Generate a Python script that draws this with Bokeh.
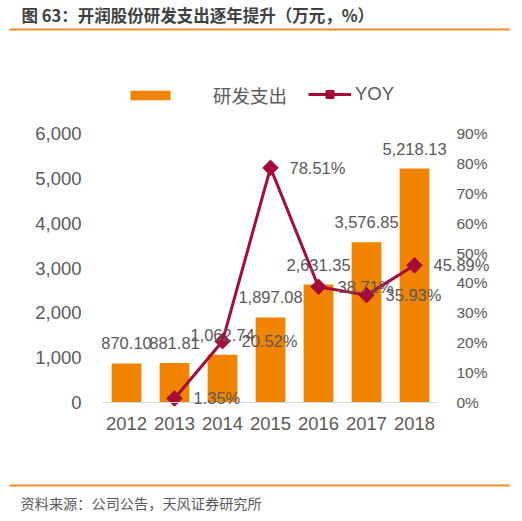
import numpy as np
from bokeh.plotting import figure
from bokeh.models import (Range1d, FactorRange, LinearAxis, FixedTicker, NumeralTickFormatter,
                          PrintfTickFormatter, ColumnDataSource, LabelSet, Legend, LegendItem, Label)
from bokeh.layouts import column
from bokeh.embed import file_html
from bokeh.resources import INLINE
from bokeh.core.properties import value

# ---------------- data ----------------
title_text = "图 63：开润股份研发支出逐年提升（万元，%）"
source_text = "资料来源：公司公告，天风证券研究所"
series_names = ["研发支出", "YOY"]
years = ["2012", "2013", "2014", "2015", "2016", "2017", "2018"]
rd_spend = [870.10, 881.81, 1062.74, 1897.08, 2631.35, 3576.85, 5218.13]
yoy_years = ["2013", "2014", "2015", "2016", "2017", "2018"]
yoy_pct = [1.35, 20.52, 78.51, 38.71, 35.93, 45.89]
left_ticks = [0, 1000, 2000, 3000, 4000, 5000, 6000]
right_ticks = [0, 10, 20, 30, 40, 50, 60, 70, 80, 90]
left_max, right_max = 6000, 90

# ---------------- styles / geometry ----------------
W = 522
ORANGE = "#F08300"
RULE = "#F08A24"
RED = "#A50D38"
GRAY = "#595959"
CJK = "Noto Sans CJK SC"
LAT = "Liberation Sans"
MIX = "Liberation Sans, Noto Sans CJK SC"

SLOT = 48          # px per category
AXIS_H = 269       # px from 0 to axis max
ABOVE = 53         # px of frame above axis max (legend room)
BELOW = 38         # px of frame below zero (x labels)
PAD = 80           # px of padding each side of the categories
CAT_LEFT = 102     # page x of the first category's left edge


def deco_fig(h):
    f = figure(width=W, height=h, x_range=Range1d(0, W), y_range=Range1d(h, 0),
               output_backend="svg", toolbar_location=None, frame_align=False,
               x_axis_location=None, y_axis_location=None, min_border=0)
    f.grid.visible = False
    f.outline_line_color = None
    return f


# ---------------- header ----------------
top = deco_fig(48)
top.segment(x0=[9], y0=[29], x1=[509], y1=[29], line_color=RULE, line_width=2)
top.add_layout(Label(x=21, y=14.5, text=title_text, text_font=CJK, text_font_style="bold",
                     text_font_size="16.5px", text_color="#404040", text_baseline="middle"))

# ---------------- main chart ----------------
xr = FactorRange(factors=years, range_padding=PAD / SLOT, range_padding_units="absolute")
lo_f, hi_f = -BELOW / AXIS_H, (AXIS_H + ABOVE) / AXIS_H
frame_left = CAT_LEFT - PAD
frame_right = CAT_LEFT + SLOT * len(years) + PAD
p = figure(width=W, height=422, x_range=xr,
           y_range=Range1d(left_max * lo_f, left_max * hi_f),
           output_backend="svg", toolbar_location=None, frame_align=False,
           min_border_top=32, min_border_bottom=30,
           min_border_left=frame_left, min_border_right=W - frame_right)
p.extra_y_ranges = {"pct": Range1d(right_max * lo_f, right_max * hi_f)}
p.grid.visible = False
p.outline_line_color = None

src_bar = ColumnDataSource(dict(year=years, rd=rd_spend, label=[f"{v:,.2f}" for v in rd_spend]))
bars = p.vbar(x="year", top="rd", bottom=0, width=0.62, source=src_bar,
              fill_color=ORANGE, line_color=None)
p.add_layout(LabelSet(x="year", y="rd", text="label", source=src_bar, y_offset=20,
                      text_align="center", text_baseline="middle",
                      text_font=value(LAT), text_font_size="16.5px", text_color=GRAY))

src_yoy = ColumnDataSource(dict(year=yoy_years, yoy=yoy_pct, label=[f"{v:.2f}%" for v in yoy_pct]))
ln = p.line(x="year", y="yoy", source=src_yoy, y_range_name="pct", line_color=RED, line_width=3)
mk = p.scatter(x="year", y="yoy", source=src_yoy, y_range_name="pct", marker="square",
               angle=np.pi / 4, size=11, fill_color=RED, line_color=RED)
p.add_layout(LabelSet(x="year", y="yoy", text="label", source=src_yoy, y_range_name="pct",
                      x_offset=19, text_align="left", text_baseline="middle",
                      text_font=value(LAT), text_font_size="16.5px", text_color=GRAY))

# axes
la = p.yaxis[0]
la.ticker = FixedTicker(ticks=left_ticks)
la.formatter = NumeralTickFormatter(format="0,0")
la.fixed_location = 0
ra = LinearAxis(y_range_name="pct", ticker=FixedTicker(ticks=right_ticks),
                formatter=PrintfTickFormatter(format="%d%%"), fixed_location=len(years))
p.add_layout(ra, "right")

xa = p.xaxis[0]
xa.fixed_location = 0
xa.bounds = (0, len(years))
xa.axis_line_color = "#D9D9D9"
xa.axis_line_width = 1

for ax in (la, ra, xa):
    ax.major_tick_line_color = None
    ax.minor_tick_line_color = None
    ax.major_tick_out = 0
    ax.major_tick_in = 0
    ax.minor_tick_out = 0
    ax.major_label_text_color = GRAY
    ax.major_label_text_font = LAT
la.axis_line_color = None
ra.axis_line_color = None
la.major_label_standoff = 21
la.major_label_text_font_size = "18.5px"
ra.major_label_standoff = 18
ra.major_label_text_font_size = "15.5px"
xa.major_label_standoff = 14
xa.major_label_text_font_size = "18.4px"

# legends
common = dict(padding=0, margin=0, spacing=0, border_line_color=None, background_fill_alpha=0,
              label_text_font=MIX, label_text_font_size="18.5px", label_text_color=GRAY,
              label_height=20)
leg1 = Legend(items=[LegendItem(label=series_names[0], renderers=[bars])],
              location=(125 - frame_left, 332),
              glyph_width=50, glyph_height=12, label_standoff=38, **common)
leg2 = Legend(items=[LegendItem(label=series_names[1], renderers=[ln, mk])],
              location=(308 - frame_left, 335),
              glyph_width=43, glyph_height=20, label_standoff=4, **common)
p.add_layout(leg1)
p.add_layout(leg2)

# ---------------- footer ----------------
bot = deco_fig(51)
bot.segment(x0=[9], y0=[15], x1=[509], y1=[15], line_color=RULE, line_width=2)
bot.add_layout(Label(x=20, y=32.5, text=source_text, text_font=CJK, text_font_size="14.2px",
                     text_color=GRAY, text_baseline="middle"))

layout = column(top, p, bot)
open("out.html", "w", encoding="utf-8").write(file_html(layout, INLINE))
